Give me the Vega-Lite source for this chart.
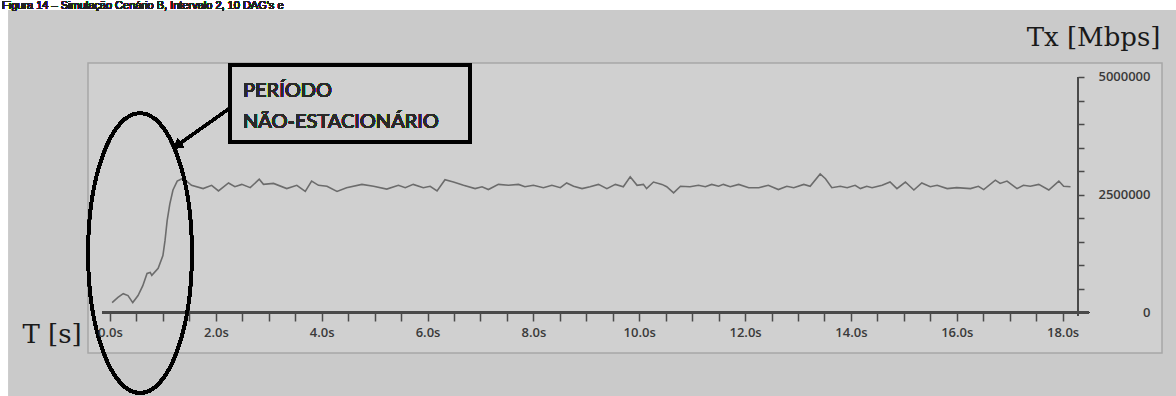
{
  "$schema": "https://vega.github.io/schema/vega-lite/v6.json",
  "autosize": "none",
  "width": 1074,
  "height": 290,
  "padding": {"left": 88, "top": 63, "right": 14, "bottom": 43},
  "background": "#cacaca",
  "config": {
    "view": {"fill": "#d0d0d0", "stroke": "#a6a6a6", "strokeWidth": 1.5},
    "axis": {"grid": false, "domain": false, "tickColor": "#4a4a4a", "tickWidth": 1.5, "labelFont": "Open Sans", "labelFontWeight": 600, "labelFontSize": 13, "labelColor": "#3a3a3a", "titleFont": "DejaVu Serif", "titleFontWeight": "normal", "titleFontSize": 26, "titleColor": "#1a1a1a"}
  },
  "resolve": {"axis": {"x": "independent", "y": "independent"}},
  "data": {"values": [
    {"t": 0.04, "v": 210000}, {"t": 0.15, "v": 320000}, {"t": 0.25, "v": 400000}, {"t": 0.34, "v": 360000},
    {"t": 0.43, "v": 210000}, {"t": 0.53, "v": 360000}, {"t": 0.62, "v": 570000}, {"t": 0.70, "v": 830000},
    {"t": 0.76, "v": 850000}, {"t": 0.79, "v": 790000}, {"t": 0.91, "v": 940000}, {"t": 1.00, "v": 1210000},
    {"t": 1.04, "v": 1530000}, {"t": 1.08, "v": 1950000}, {"t": 1.13, "v": 2300000}, {"t": 1.19, "v": 2600000},
    {"t": 1.27, "v": 2790000}, {"t": 1.38, "v": 2850000}, {"t": 1.54, "v": 2700000}, {"t": 1.76, "v": 2630000},
    {"t": 1.92, "v": 2700000}, {"t": 2.05, "v": 2580000}, {"t": 2.24, "v": 2750000}, {"t": 2.36, "v": 2670000},
    {"t": 2.49, "v": 2720000}, {"t": 2.65, "v": 2650000}, {"t": 2.82, "v": 2830000}, {"t": 2.90, "v": 2720000},
    {"t": 3.09, "v": 2740000}, {"t": 3.34, "v": 2630000}, {"t": 3.53, "v": 2700000}, {"t": 3.69, "v": 2570000},
    {"t": 3.81, "v": 2790000}, {"t": 3.94, "v": 2700000}, {"t": 4.10, "v": 2680000}, {"t": 4.29, "v": 2570000},
    {"t": 4.47, "v": 2650000}, {"t": 4.76, "v": 2720000}, {"t": 4.98, "v": 2680000}, {"t": 5.23, "v": 2620000},
    {"t": 5.45, "v": 2700000}, {"t": 5.58, "v": 2650000}, {"t": 5.73, "v": 2720000}, {"t": 5.92, "v": 2650000},
    {"t": 6.05, "v": 2680000}, {"t": 6.18, "v": 2580000}, {"t": 6.33, "v": 2820000}, {"t": 6.49, "v": 2770000},
    {"t": 6.68, "v": 2700000}, {"t": 6.90, "v": 2630000}, {"t": 7.03, "v": 2670000}, {"t": 7.15, "v": 2610000},
    {"t": 7.34, "v": 2720000}, {"t": 7.53, "v": 2700000}, {"t": 7.72, "v": 2720000}, {"t": 7.84, "v": 2670000},
    {"t": 8.00, "v": 2700000}, {"t": 8.19, "v": 2650000}, {"t": 8.35, "v": 2700000}, {"t": 8.51, "v": 2650000},
    {"t": 8.63, "v": 2750000}, {"t": 8.76, "v": 2680000}, {"t": 8.92, "v": 2630000}, {"t": 9.07, "v": 2670000},
    {"t": 9.23, "v": 2720000}, {"t": 9.39, "v": 2630000}, {"t": 9.55, "v": 2720000}, {"t": 9.70, "v": 2670000},
    {"t": 9.83, "v": 2880000}, {"t": 9.96, "v": 2700000}, {"t": 10.08, "v": 2720000}, {"t": 10.14, "v": 2630000},
    {"t": 10.27, "v": 2770000}, {"t": 10.43, "v": 2720000}, {"t": 10.52, "v": 2670000}, {"t": 10.65, "v": 2540000},
    {"t": 10.78, "v": 2680000}, {"t": 10.96, "v": 2670000}, {"t": 11.12, "v": 2700000}, {"t": 11.25, "v": 2670000},
    {"t": 11.37, "v": 2720000}, {"t": 11.50, "v": 2680000}, {"t": 11.59, "v": 2720000}, {"t": 11.72, "v": 2670000},
    {"t": 11.88, "v": 2720000}, {"t": 12.07, "v": 2650000}, {"t": 12.26, "v": 2650000}, {"t": 12.44, "v": 2700000},
    {"t": 12.63, "v": 2610000}, {"t": 12.79, "v": 2680000}, {"t": 12.92, "v": 2650000}, {"t": 13.11, "v": 2720000},
    {"t": 13.23, "v": 2680000}, {"t": 13.42, "v": 2940000}, {"t": 13.52, "v": 2840000}, {"t": 13.64, "v": 2650000},
    {"t": 13.80, "v": 2680000}, {"t": 13.93, "v": 2650000}, {"t": 14.08, "v": 2700000}, {"t": 14.18, "v": 2630000},
    {"t": 14.30, "v": 2680000}, {"t": 14.40, "v": 2650000}, {"t": 14.59, "v": 2700000}, {"t": 14.74, "v": 2770000},
    {"t": 14.87, "v": 2630000}, {"t": 15.03, "v": 2770000}, {"t": 15.19, "v": 2600000}, {"t": 15.34, "v": 2750000},
    {"t": 15.50, "v": 2670000}, {"t": 15.63, "v": 2700000}, {"t": 15.82, "v": 2630000}, {"t": 16.00, "v": 2650000},
    {"t": 16.26, "v": 2630000}, {"t": 16.41, "v": 2680000}, {"t": 16.51, "v": 2610000}, {"t": 16.73, "v": 2810000},
    {"t": 16.82, "v": 2740000}, {"t": 16.95, "v": 2790000}, {"t": 17.14, "v": 2630000}, {"t": 17.26, "v": 2700000},
    {"t": 17.39, "v": 2680000}, {"t": 17.55, "v": 2720000}, {"t": 17.74, "v": 2600000}, {"t": 17.93, "v": 2790000},
    {"t": 18.02, "v": 2680000}, {"t": 18.15, "v": 2670000}
  ]},
  "layer": [
    {
      "mark": {"type": "line", "color": "#6c6c6c", "strokeWidth": 1.6},
      "encoding": {
        "x": {
          "field": "t", "type": "quantitative",
          "scale": {"domain": [-0.4157, 19.879], "nice": false, "zero": false},
          "axis": {
            "zindex": 1, "orient": "bottom", "offset": -40,
            "title": "T [s]", "titleAlign": "left", "titleBaseline": "alphabetic", "titleX": -66, "titleY": 29,
            "values": [0,0.5,1,1.5,2,2.5,3,3.5,4,4.5,5,5.5,6,6.5,7,7.5,8,8.5,9,9.5,10,10.5,11,11.5,12,12.5,13,13.5,14,14.5,15,15.5,16,16.5,17,17.5,18],
            "labelExpr": "datum.value % 2 === 0 ? format(datum.value, '.1f') + 's' : ''",
            "tickSize": 8,
            "labelPadding": 5, "labelFlush": false, "labelOverlap": false
          }
        },
        "y": {
          "field": "v", "type": "quantitative",
          "scale": {"domain": [-860000, 5297000], "nice": false, "zero": false},
          "axis": {
            "zindex": 1, "orient": "right", "offset": -84,
            "title": "Tx [Mbps]", "titleAngle": 0, "titleAlign": "right", "titleBaseline": "alphabetic", "titleX": 82, "titleY": -18,
            "values": [0,500000,1000000,1500000,2000000,2500000,3000000,3500000,4000000,4500000,5000000],
            "labelExpr": "datum.value % 2500000 === 0 ? format(datum.value, 'd') : ''",
            "tickSize": 6,
            "labelAlign": "right", "labelPadding": 66, "labelFlush": false, "labelOverlap": false
          }
        }
      }
    },
    {
      "mark": {"type": "rule", "color": "#4a4a4a", "strokeWidth": 1.5},
      "encoding": {
        "x": {"datum": -0.15, "type": "quantitative", "axis": null},
        "x2": {"datum": 18.5},
        "y": {"datum": 0, "type": "quantitative", "axis": null}
      }
    },
    {
      "mark": {"type": "rule", "color": "#4a4a4a", "strokeWidth": 1.5},
      "encoding": {
        "x": {"datum": 18.29, "type": "quantitative", "axis": null},
        "y": {"datum": 5000000, "type": "quantitative", "axis": null},
        "y2": {"datum": -74000}
      }
    },
    {
      "mark": {"type": "rect", "fill": "#ffffff", "strokeWidth": 0},
      "encoding": {
        "x": {"datum": -3, "type": "quantitative", "axis": null},
        "x2": {"datum": 21},
        "y": {"datum": 6800000, "type": "quantitative", "axis": null},
        "y2": {"datum": 6422000}
      }
    },
    {
      "mark": {"type": "rect", "fill": "#ffffff", "strokeWidth": 0},
      "encoding": {
        "x": {"datum": -3, "type": "quantitative", "axis": null},
        "x2": {"datum": -1.927},
        "y": {"datum": 6800000, "type": "quantitative", "axis": null},
        "y2": {"datum": -2000000}
      }
    },
    {
      "mark": {"type": "text", "font": "Liberation Sans", "fontSize": 11, "align": "left", "baseline": "alphabetic", "color": "#222222", "text": "Figura 14 – Simulação Cenário B, Intervalo 2, 10 DAG's e"},
      "encoding": {
        "x": {"datum": -2.041, "type": "quantitative", "axis": null},
        "y": {"datum": 6443600, "type": "quantitative", "axis": null}
      }
    },
    {
      "mark": {"type": "rect", "fill": null, "fillOpacity": 0, "stroke": "#000000", "strokeWidth": 2.5},
      "encoding": {
        "x": {"datum": 2.268, "type": "quantitative", "axis": null},
        "x2": {"datum": 6.805},
        "y": {"datum": 5254700, "type": "quantitative", "axis": null},
        "y2": {"datum": 3619900}
      }
    },
    {
      "mark": {"type": "text", "font": "Lato", "fontSize": 20, "align": "left", "baseline": "alphabetic", "color": "#2a2a2a", "lineHeight": 31, "text": ["PERÍODO", "NÃO-ESTACIONÁRIO"]},
      "encoding": {
        "x": {"datum": 2.514, "type": "quantitative", "axis": null},
        "y": {"datum": 4575300, "type": "quantitative", "axis": null}
      }
    },
    {
      "mark": {"type": "rule", "color": "#000000", "strokeWidth": 2.5},
      "encoding": {
        "x": {"datum": 2.268, "type": "quantitative", "axis": null},
        "x2": {"datum": 1.30},
        "y": {"datum": 4341700, "type": "quantitative", "axis": null},
        "y2": {"datum": 3570000}
      }
    },
    {
      "mark": {"type": "point", "shape": "triangle-up", "filled": true, "color": "#000000", "opacity": 1, "size": 110, "angle": 234},
      "encoding": {
        "x": {"datum": 1.27, "type": "quantitative", "axis": null},
        "y": {"datum": 3540000, "type": "quantitative", "axis": null}
      }
    },
    {
      "mark": {"type": "point", "shape": "M 0 -1 C 0.205 -1 0.371 -0.5523 0.371 0 C 0.371 0.5523 0.205 1 0 1 C -0.205 1 -0.371 0.5523 -0.371 0 C -0.371 -0.5523 -0.205 -1 0 -1 Z", "filled": false, "stroke": "#000000", "strokeWidth": 3, "opacity": 1, "size": 78400},
      "encoding": {
        "x": {"datum": 0.567, "type": "quantitative", "axis": null},
        "y": {"datum": 1263300, "type": "quantitative", "axis": null}
      }
    }
  ]
}
